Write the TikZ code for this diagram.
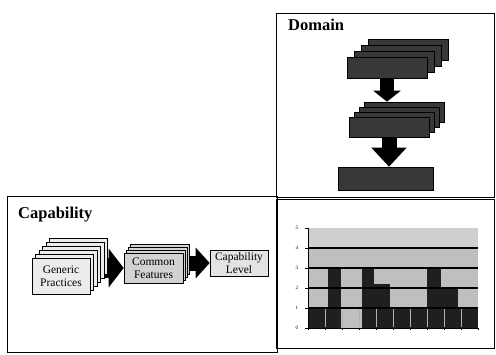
\documentclass[tikz,border=0pt]{standalone}
\usepackage{fontspec}
\setmainfont{Liberation Serif}
\usetikzlibrary{positioning,shadows,arrows.meta,backgrounds}

\begin{document}
\begin{tikzpicture}[x=1pt,y=-1pt]
        \tikzset{panel/.style={draw, line width=0.8pt},
        title/.style={font=\bfseries\fontsize{16.5}{18}\selectfont, anchor=north west, inner sep=0pt},
        card/.style={draw, fill=gray!22, line width=0.6pt, align=center, inner sep=0pt,
            font=\fontsize{11.5}{12.5}\selectfont},
        darkcard/.style={draw, fill=black!78, line width=0.6pt, inner sep=0pt},
        bigarrow/.style n args={3}{line width=#1, -{Triangle[width=#2,length=#3]}}
        }
        \useasboundingbox (0,0) rectangle (496,354);

%% panels
        \draw[panel] (276,13) rectangle (494,197);
        \draw[panel] (7,196) rectangle (277,352);
        \draw[panel] (276,199) rectangle (494,348);
        \node [title] (domtitle) at (288,19) {Domain};
        \node [title] (captitle) at (18,207) {Capability};

%% domain stacks
        \node [darkcard, minimum width=80, minimum height=21,
            copy shadow={shadow xshift=21pt, shadow yshift=18pt, fill=black!78, draw=black},
            copy shadow={shadow xshift=14pt, shadow yshift=12pt, fill=black!78, draw=black},
            copy shadow={shadow xshift=7pt, shadow yshift=6pt, fill=black!78, draw=black}]
            (dtop) at (387,67.5) {};
        \node [darkcard, minimum width=80, minimum height=20,
            copy shadow={shadow xshift=15pt, shadow yshift=15pt, fill=black!78, draw=black},
            copy shadow={shadow xshift=10pt, shadow yshift=10pt, fill=black!78, draw=black},
            copy shadow={shadow xshift=5pt, shadow yshift=5pt, fill=black!78, draw=black}]
            (dmid) at (389,127) {};
        \node [darkcard, minimum width=95, minimum height=23] (dbot) at (386,178.5) {};

        \draw[bigarrow={14pt}{27pt}{11pt}] (dtop.south) -- ([yshift=15pt]dtop.south |- dmid.north);
        \draw[bigarrow={15pt}{34pt}{19pt}] (dmid.south) -- (dmid.south |- dbot.north);

%% capability stacks
        \node [card, minimum width=58, minimum height=36, fill=gray!15,
            copy shadow={shadow xshift=17.5pt, shadow yshift=20pt, fill=gray!15, draw=black},
            copy shadow={shadow xshift=14pt, shadow yshift=16pt, fill=gray!15, draw=black},
            copy shadow={shadow xshift=10.5pt, shadow yshift=12pt, fill=gray!15, draw=black},
            copy shadow={shadow xshift=7pt, shadow yshift=8pt, fill=gray!15, draw=black},
            copy shadow={shadow xshift=3.5pt, shadow yshift=4pt, fill=gray!15, draw=black}]
            (gp) at (61,276) {Generic\\Practices};
        \node [card, minimum width=59, minimum height=30, fill=gray!35,
            copy shadow={shadow xshift=6pt, shadow yshift=9pt, fill=gray!35, draw=black},
            copy shadow={shadow xshift=4pt, shadow yshift=6pt, fill=gray!35, draw=black},
            copy shadow={shadow xshift=2pt, shadow yshift=3pt, fill=gray!35, draw=black}]
            (cf) at (153.5,268) {Common\\Features};
        \node [card, minimum width=58, minimum height=26] (cl) at (239,263) {Capability\\Level};

        \begin{scope}[on background layer]
        \draw[bigarrow={20pt}{38pt}{15pt}] (gp.center |- cf.west) -- (cf.west);
        \draw[bigarrow={15pt}{30pt}{14pt}] (cf.center |- cl.west) -- (cl.west);
        \end{scope}

%% chart
        \begin{scope}[shift={(308,328)}, x=17pt, y=20pt]
        \fill[gray!50] (0,0) rectangle (10,4);
        \fill[gray!38] (0,4) rectangle (10,5);
        \foreach \a/\b/\h in {0/1.18/1, 1.18/1.94/3, 3.18/3.88/3, 3.88/4.82/2.2,
                4.82/7/1, 7/7.82/3, 7.82/8.82/2, 8.82/10/1}
            \fill[black!88] (\a,0) rectangle (\b,\h);
        \foreach \i in {1,...,9}
            \draw[gray!60, line width=0.5pt] (\i,0.05) -- (\i,0.95);
        \foreach \v in {1,...,4}
            \draw[line width=1.5pt] (0,\v) -- (10,\v);
        \draw[line width=0.6pt] (0,5) -- (0,0) -- (10,0);
        \foreach \i in {0,...,10}
            \draw[line width=0.5pt] (\i,0) -- (\i,-0.12);
        \foreach \v in {0,...,5}{
            \draw[line width=0.5pt] (-0.15,\v) -- (0,\v);
            \node [font=\fontsize{5}{5}\selectfont, inner sep=0pt] (yl\v) at (-0.65,\v) {\v};
        }
        \end{scope}
    \end{tikzpicture}
\end{document}
